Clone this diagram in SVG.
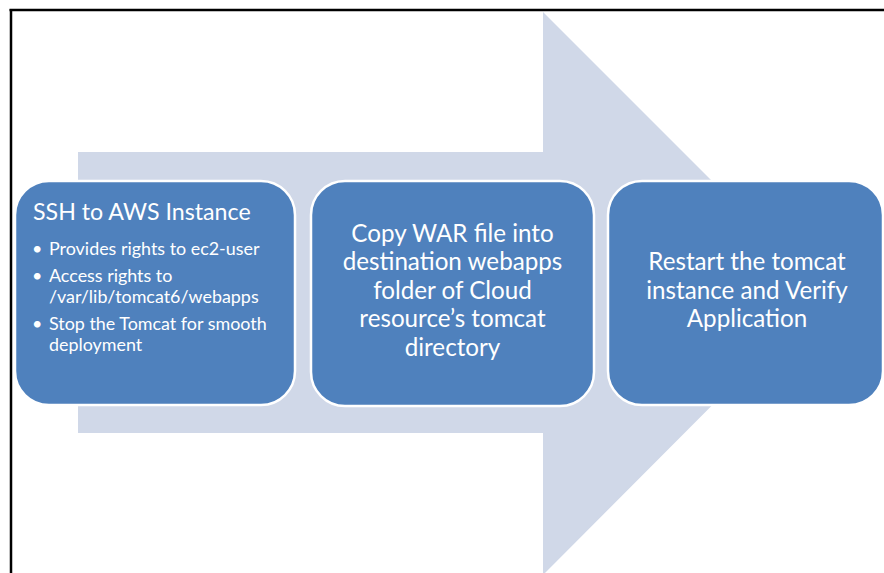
<svg xmlns="http://www.w3.org/2000/svg" width="884" height="573" viewBox="0 0 884 573">
<style>
.box{fill:#4f81bd;stroke:#ffffff;stroke-width:2.5}
.t{font-family:Lato,"Open Sans",sans-serif;fill:#ffffff}
.c{text-anchor:middle;font-size:24.2px}
.b{font-size:17.9px}
</style>
<rect width="884" height="573" fill="#ffffff"/>
<g id="frame" stroke="#000000" stroke-width="2.5">
<line x1="9.5" y1="10" x2="884" y2="10"/>
<line x1="11" y1="9" x2="11" y2="573"/>
</g>
<g id="connectors">
<polygon id="arrow" fill="#d0d8e8" points="78,152 543,152 543,12 824,293 543,575 543,433 78,433"/>
</g>
<g id="node1">
<rect class="box" x="15" y="181" width="280" height="224" rx="34" ry="34"/>
<text class="t" x="33" y="220" font-size="23.2">SSH to AWS Instance</text>
<g class="t b">
<text x="32" y="255">•</text><text x="49" y="255">Provides rights to ec2-user</text>
<text x="32" y="282">•</text><text x="49" y="282">Access rights to</text>
<text x="49" y="303">/var/lib/tomcat6/webapps</text>
<text x="32" y="330">•</text><text x="49" y="330">Stop the Tomcat for smooth</text>
<text x="49" y="351">deployment</text>
</g>
</g>
<g id="node2">
<rect class="box" x="311" y="181" width="283" height="225" rx="34" ry="34"/>
<g class="t c">
<text x="452.5" y="242">Copy WAR file into</text>
<text x="452.5" y="270">destination webapps</text>
<text x="452.5" y="299">folder of Cloud</text>
<text x="452.5" y="327">resource’s tomcat</text>
<text x="452.5" y="356">directory</text>
</g>
</g>
<g id="node3">
<rect class="box" x="608" y="181" width="275" height="224" rx="34" ry="34"/>
<g class="t c">
<text x="747" y="270">Restart the tomcat</text>
<text x="747" y="299">instance and Verify</text>
<text x="747" y="327">Application</text>
</g>
</g>
</svg>
